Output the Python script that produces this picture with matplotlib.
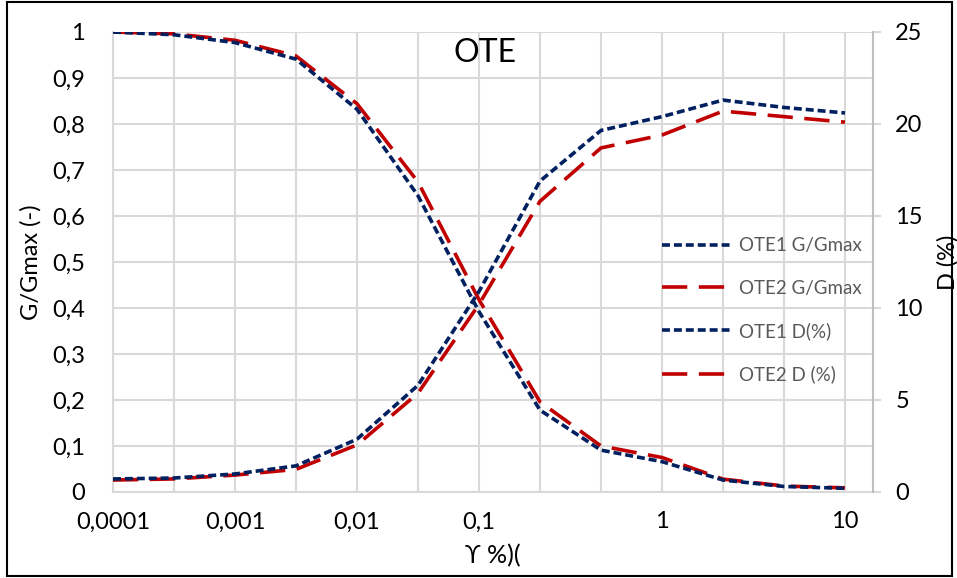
import numpy as np
import matplotlib
matplotlib.use("Agg")
from matplotlib import pyplot as plt
from matplotlib.patches import Rectangle

# strain categories (evenly spaced in the chart, like an Excel line chart)
strain = ["0,0001", "", "0,001", "", "0,01", "", "0,1", "", "", "1", "", "", "10"]

# G/Gmax (left axis)
ote1_g = [1.0, 0.994, 0.977, 0.941, 0.832, 0.644, 0.392, 0.178, 0.091, 0.066, 0.026, 0.012, 0.008]
ote2_g = [1.0, 0.996, 0.982, 0.948, 0.844, 0.674, 0.418, 0.196, 0.100, 0.075, 0.028, 0.013, 0.009]

# damping D (%) (right axis)
ote1_d = [0.71, 0.76, 0.98, 1.42, 2.87, 5.8, 10.9, 16.9, 19.65, 20.4, 21.3, 20.9, 20.6]
ote2_d = [0.65, 0.71, 0.92, 1.23, 2.56, 5.37, 10.2, 15.8, 18.7, 19.4, 20.7, 20.4, 20.1]

navy = "#002060"
red = "#C00000"
grid_col = "#d9d9d9"

plt.rcParams['font.family'] = ['Lato', 'DejaVu Sans']

fig = plt.figure(figsize=(9.57, 5.78), dpi=100)
ax = fig.add_axes([113 / 957, 1 - 492 / 578, (873 - 113) / 957, (492 - 32) / 578])
ax2 = ax.twinx()

x = np.arange(len(strain))

lw = 2.6
navy_dash = (2.2, 1.1)
red_dash = (7.0, 3.2)

l1, = ax.plot(x, ote1_g, color=navy, lw=lw, dashes=navy_dash, label="OTE1 G/Gmax", zorder=3)
l2, = ax.plot(x, ote2_g, color=red, lw=lw, dashes=red_dash, label="OTE2 G/Gmax", zorder=2)
l3, = ax2.plot(x, ote1_d, color=navy, lw=lw, dashes=navy_dash, label="OTE1 D(%)", zorder=3)
l4, = ax2.plot(x, ote2_d, color=red, lw=lw, dashes=red_dash, label="OTE2 D (%)", zorder=2)

ax.set_xlim(0, 12 + 28 / 61)
ax.set_ylim(0, 1)
ax2.set_ylim(0, 25)

ax.set_xticks(x)
ax.set_xticklabels(strain, fontsize=17)
ax.set_yticks(np.arange(0, 1.01, 0.1))
ax.set_yticklabels(["0"] + ["0,%d" % i for i in range(1, 10)] + ["1"], fontsize=17)
ax2.set_yticks(np.arange(0, 26, 5))
ax2.set_yticklabels([str(v) for v in range(0, 26, 5)], fontsize=17)

ax.grid(True, color=grid_col, lw=1.5)
ax.set_axisbelow(True)
ax.tick_params(axis="y", length=0, pad=20)
ax.tick_params(axis="x", length=0, pad=14)
ax2.tick_params(axis="y", length=6, width=1.5, color=grid_col, pad=10)

for side in ["top", "right"]:
    ax.spines[side].set_visible(False)
    ax2.spines[side].set_visible(side == "right")
ax.spines["left"].set_color(grid_col)
ax.spines["bottom"].set_color(grid_col)
ax.spines["left"].set_linewidth(1.5)
ax.spines["bottom"].set_linewidth(1.5)
ax2.spines["right"].set_color("#bfbfbf")
ax2.spines["right"].set_linewidth(1.5)
ax2.spines["left"].set_visible(False)
ax2.spines["bottom"].set_visible(False)

ax.set_ylabel("G/Gmax (-)", fontsize=17, labelpad=8)
ax2.set_ylabel("D (%)", fontsize=17, labelpad=10)
ax.set_xlabel("ϒ %)(", fontsize=18, labelpad=8)

ax.text(6.1, 0.955, "OTE", fontsize=23, ha="center", va="center")

leg = ax2.legend(handles=[l1, l2, l3, l4], loc="center left",
                 bbox_to_anchor=(0.7, 0.395), frameon=False, fontsize=13.5,
                 handlelength=3.7, labelspacing=1.35, handletextpad=0.4)
for t in leg.get_texts():
    t.set_color("#595959")

fig.patches.append(Rectangle((7 / 957, 2 / 578), 945 / 957, 574 / 578,
                             transform=fig.transFigure, fill=False,
                             edgecolor="black", lw=1.5))

fig.savefig("out.png", dpi=100)
